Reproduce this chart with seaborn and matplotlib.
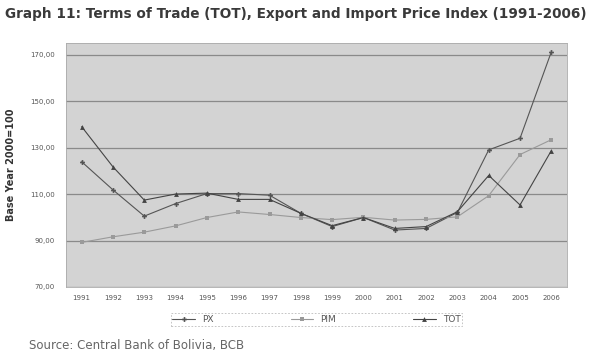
import matplotlib
matplotlib.use("Agg")
import matplotlib.pyplot as plt
import seaborn as sns
import pandas as pd

years = [str(y) for y in range(1991, 2007)]
px = [123.9, 111.8, 100.5, 105.9, 110.2, 110.2, 109.5, 101.7, 96.0, 99.9, 94.5, 95.2, 102.1, 129.0, 134.0, 171.2]
pim = [89.2, 91.6, 93.6, 96.3, 99.9, 102.3, 101.2, 99.9, 99.0, 100.0, 98.8, 99.1, 100.2, 109.3, 127.0, 133.4]
tot = [139.0, 121.7, 107.4, 110.0, 110.4, 107.7, 107.7, 101.7, 96.4, 99.9, 95.2, 96.0, 102.4, 118.0, 105.3, 128.7]
yticks = [70, 90, 110, 130, 150, 170]

df = pd.DataFrame({"Year": years * 3,
                   "Value": px + pim + tot,
                   "Series": ["PX"] * 16 + ["PIM"] * 16 + ["TOT"] * 16})

sns.set_style("white")
plt.rcParams['font.family'] = ['DejaVu Sans']

fig = plt.figure(figsize=(5.93, 3.56), dpi=100)
ax = fig.add_axes([66/593, 1-287/356, (567-66)/593, (287-43)/356])
ax.set_facecolor("#d3d3d3")

palette = {"PX": "#555555", "PIM": "#9a9a9a", "TOT": "#444444"}
markers = {"PX": "P", "PIM": "s", "TOT": "^"}
sns.lineplot(data=df, x="Year", y="Value", hue="Series", style="Series",
             palette=palette, markers=markers, dashes=False, ax=ax,
             linewidth=0.8, markersize=3.5, markeredgewidth=0, sort=False)

ax.set_xlim(-0.5, 15.5)
ax.set_ylim(70, 175)
ax.set_yticks(yticks)
ax.set_yticklabels([f"{v:.2f}".replace(".", ",") for v in yticks], fontsize=5, color="#555555")
ax.tick_params(axis="x", labelsize=5, colors="#555555", length=0, pad=6)
ax.tick_params(axis="y", length=0, pad=8)
ax.grid(axis="y", color="#8a8a8a", linewidth=0.9)
ax.set_axisbelow(True)
for s in ax.spines.values():
    s.set_linestyle((0, (1, 1)))
    s.set_color("#aaaaaa")
    s.set_linewidth(0.6)
ax.set_xlabel("")
ax.set_ylabel("Base Year 2000=100", fontsize=7, fontweight="bold", color="#333333", labelpad=10)

leg = ax.legend(loc="upper left", bbox_to_anchor=((166-66)/501, -0.15, (467-166)/501, 0.06),
                mode="expand", ncol=3, frameon=True, fontsize=6.5, handlelength=2.5,
                borderpad=0.2, fancybox=False, labelcolor="#555555")
leg.get_frame().set_linestyle((0, (2, 2)))
leg.get_frame().set_edgecolor("#aaaaaa")
leg.get_frame().set_linewidth(0.6)

fig.text(0.008, 0.962, "Graph 11: Terms of Trade (TOT), Export and Import Price Index (1991-2006)",
         fontsize=9.85, fontweight="bold", color="#3a3a3a", va="center", ha="left")
fig.text(29/593, 1-345/356, "Source: Central Bank of Bolivia, BCB", fontsize=8.5,
         color="#666666", va="center", ha="left")

fig.savefig("out.png", dpi=100, facecolor="white")
